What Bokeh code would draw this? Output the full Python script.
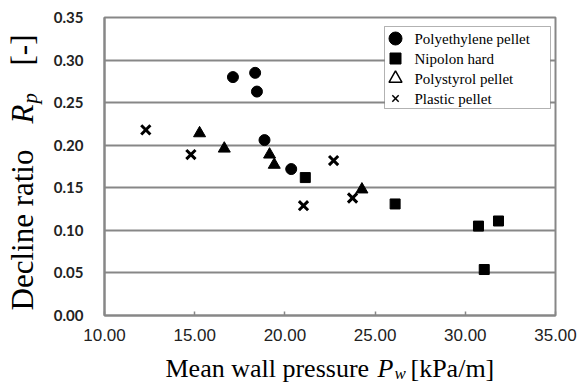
import math
from bokeh.plotting import figure
from bokeh.layouts import row, column
from bokeh.models import Range1d, FixedTicker, PrintfTickFormatter, BoxAnnotation
from bokeh.core.properties import value
from bokeh.embed import file_html
from bokeh.resources import INLINE

# ---- data ----
pe_x = [17.12, 18.35, 18.45, 18.87, 20.35]
pe_y = [0.280, 0.285, 0.263, 0.206, 0.172]

nh_x = [21.13, 26.11, 30.73, 31.84, 31.05]
nh_y = [0.162, 0.131, 0.105, 0.111, 0.054]

ps_x = [15.27, 16.64, 19.15, 19.41, 24.27]
ps_y = [0.214, 0.196, 0.189, 0.177, 0.148]

pl_x = [12.29, 14.79, 22.70, 21.03, 23.75]
pl_y = [0.218, 0.189, 0.182, 0.129, 0.138]

series_names = ["Polyethylene pellet", "Nipolon hard", "Polystyrol pellet", "Plastic pellet"]
x_ticks = [10, 15, 20, 25, 30, 35]
y_ticks = [0.00, 0.05, 0.10, 0.15, 0.20, 0.25, 0.30, 0.35]

# ---- layout (canvas pixels) ----
W, H = 587, 383
YLW = 46
XLH = 33
PW, PH = W - YLW, H - XLH
FL, FR, FT, FB = 104, 555, 17, 315
XMIN, XMAX, YMIN, YMAX = 10, 35, 0, 0.35
GRAY = "#878787"
SERIF = "'Liberation Serif', 'Times New Roman', Times, serif"
BASE_SHIFT = 0.35  # text glyph draws its baseline this many em past the anchor

def dx(px):
    return XMIN + (px - FL) / (FR - FL) * (XMAX - XMIN)

def dy(py):
    return YMIN + (FB - py) / (FB - FT) * (YMAX - YMIN)

p = figure(width=PW, height=PH, output_backend="svg", toolbar_location=None,
           x_range=Range1d(XMIN, XMAX), y_range=Range1d(YMIN, YMAX),
           min_border_left=FL - YLW, min_border_right=W - FR,
           min_border_top=FT, min_border_bottom=PH - FB)
p.background_fill_color = "white"
p.border_fill_color = "white"
p.outline_line_color = GRAY
p.outline_line_width = 2

p.xgrid.visible = False
p.ygrid.ticker = FixedTicker(ticks=y_ticks)
p.ygrid.grid_line_color = GRAY
p.ygrid.grid_line_width = 2

p.xaxis.ticker = FixedTicker(ticks=x_ticks)
p.xaxis.formatter = PrintfTickFormatter(format="%.2f")
p.xaxis.axis_line_color = GRAY
p.xaxis.axis_line_width = 2
p.xaxis.major_tick_line_color = GRAY
p.xaxis.major_tick_line_width = 1.5
p.xaxis.major_tick_in = 4
p.xaxis.major_tick_out = 0
p.xaxis.minor_tick_line_color = None
p.xaxis.major_label_text_font = "Liberation Sans"
p.xaxis.major_label_text_font_size = "17px"
p.xaxis.major_label_text_color = "#222222"
p.xaxis.major_label_standoff = 13

p.yaxis.ticker = FixedTicker(ticks=y_ticks)
p.yaxis.formatter = PrintfTickFormatter(format="%.2f")
p.yaxis.axis_line_color = GRAY
p.yaxis.axis_line_width = 2
p.yaxis.major_tick_line_color = None
p.yaxis.minor_tick_line_color = None
p.yaxis.major_tick_in = 0
p.yaxis.major_tick_out = 0
p.yaxis.major_label_text_font = "Lato"
p.yaxis.major_label_text_font_style = "bold"
p.yaxis.major_label_text_font_size = "15px"
p.yaxis.major_label_text_color = "#222222"
p.yaxis.major_label_standoff = 21

# ---- data marks ----
p.scatter(pe_x, pe_y, marker="circle", size=11, fill_color="black", line_color="black")
p.scatter(nh_x, nh_y, marker="square", size=10, fill_color="black", line_color="black")
p.scatter(ps_x, ps_y, marker="triangle", size=12, fill_color="black", line_color="black")
p.scatter(pl_x, pl_y, marker="x", size=13, line_color="black", line_width=3)

# ---- legend (manual) ----
box = BoxAnnotation(left=dx(384), right=dx(550), top=dy(26), bottom=dy(108),
                    fill_color="white", fill_alpha=1.0, line_color="black", line_width=1,
                    level="underlay")
p.add_layout(box)
rows_py = [38, 58, 78, 98]
leg_x = [dx(395)] * 4
leg_y = [dy(v) for v in rows_py]
p.scatter([leg_x[0]], [leg_y[0]], marker="circle", size=13, fill_color="black", line_color="black")
p.scatter([leg_x[1]], [leg_y[1]], marker="square", size=11, fill_color="black", line_color="black")
p.scatter([leg_x[2]], [leg_y[2]], marker="triangle", size=13, fill_color=None, line_color="black", line_width=1.5)
p.scatter([leg_x[3]], [leg_y[3]], marker="x", size=9, line_color="black", line_width=1.5)
p.text(x=[dx(414)] * 4, y=leg_y, text=series_names, text_font=value(SERIF),
       text_font_size="15px", text_baseline="middle", text_align="left", text_color="black")

# ---- title strips (real text with mixed styles) ----
def strip(w, h, yr):
    f = figure(width=w, height=h, output_backend="svg", toolbar_location=None,
               x_range=Range1d(0, w), y_range=yr,
               x_axis_type=None, y_axis_type=None, min_border=0,
               min_border_left=0, min_border_right=0, min_border_top=0, min_border_bottom=0)
    f.outline_line_color = None
    f.background_fill_color = "white"
    f.border_fill_color = "white"
    return f

def piece(f, txt, x, y, size, style="normal", angle=0.0):
    f.text(x=[x], y=[y], text=[txt], text_font=value(SERIF), text_font_size=f"{size}px",
           text_font_style=style, angle=angle, text_align="left",
           text_baseline="alphabetic", text_color="black")

# x title strip: canvas rows PH..H, data y = H - canvas_y
xf = strip(W, XLH, Range1d(0, XLH))
def xt(txt, px, base_py, size, style="normal"):
    piece(xf, txt, px, H - (base_py - BASE_SHIFT * size), size, style)
xt("Mean wall pressure", 165, 377, 26)
xt("P", 377, 377, 26, "italic")
xt("w", 394, 379, 17, "italic")
xt("[kPa/m]", 410, 377, 26)

# y title strip: its frame is aligned with the main frame (canvas rows FT..FB)
yf = strip(YLW, PH, Range1d(PH - FB, PH - FT))
A = math.pi / 2
def yt(txt, base_px, start_py, size, style="normal"):
    piece(yf, txt, base_px - BASE_SHIFT * size, PH - start_py, size, style, angle=A)
yt("Decline ratio", 33, 310, 31)
yt("R", 33, 123, 31, "italic")
yt("p", 37, 103, 21, "italic")
yt("[-]", 33, 65, 31)

layout = column(row(yf, p), xf)
open("out.html", "w").write(file_html(layout, INLINE))
